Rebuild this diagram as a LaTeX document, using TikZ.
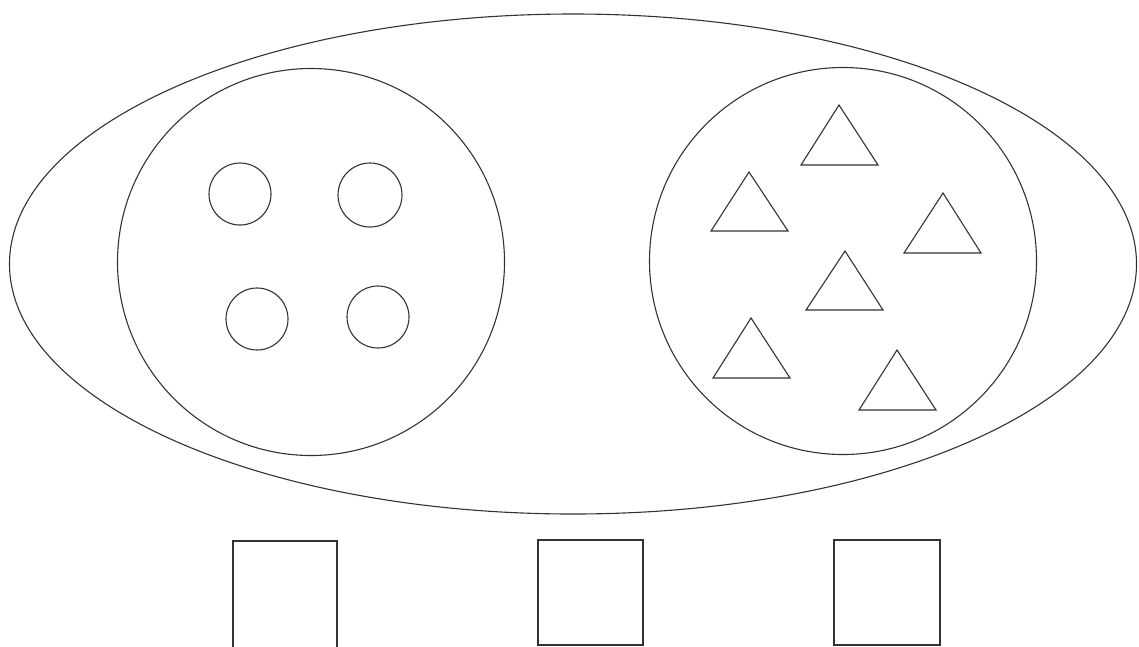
\documentclass[tikz,border=0pt]{standalone}
\usetikzlibrary{shapes.geometric}
\begin{document}
\begin{tikzpicture}[x=1pt,y=-1pt,
  shp/.style={draw=black!80,line width=1.1pt},
  small/.style={shp,circle,minimum size=62pt,inner sep=0pt},
  tri/.style={shp,line join=miter}]
\useasboundingbox (0,0) rectangle (1139,646);
\clip (0,0) rectangle (1139,646);
\node[shp,ellipse,minimum width=1127pt,minimum height=500pt,inner sep=0pt] (outer) at (573,264) {};
\node[shp,circle,minimum size=387pt,inner sep=0pt] (left) at (311,262) {};
\node[shp,circle,minimum size=387pt,inner sep=0pt] (right) at (843,261) {};
\node[small] (c1) at (240,194) {};
\node[small,minimum size=64pt] (c2) at (370,195) {};
\node[small] (c3) at (257,319) {};
\node[small] (c4) at (378,317) {};
\draw[tri] (839,105) -- (801,165) -- (878,165) -- cycle;
\draw[tri] (749,172) -- (711,231) -- (788,231) -- cycle;
\draw[tri] (943,193) -- (904,253) -- (981,253) -- cycle;
\draw[tri] (845,251) -- (806,310) -- (883,310) -- cycle;
\draw[tri] (751,318) -- (713,378) -- (790,378) -- cycle;
\draw[tri] (897,350) -- (859,410) -- (936,410) -- cycle;
\draw[shp] (233,650) -- (233,541) -- (337,541) -- (337,650);
\draw[shp] (538,540) rectangle (643,645);
\draw[shp] (834,540) rectangle (940,645);
\end{tikzpicture}
\end{document}
